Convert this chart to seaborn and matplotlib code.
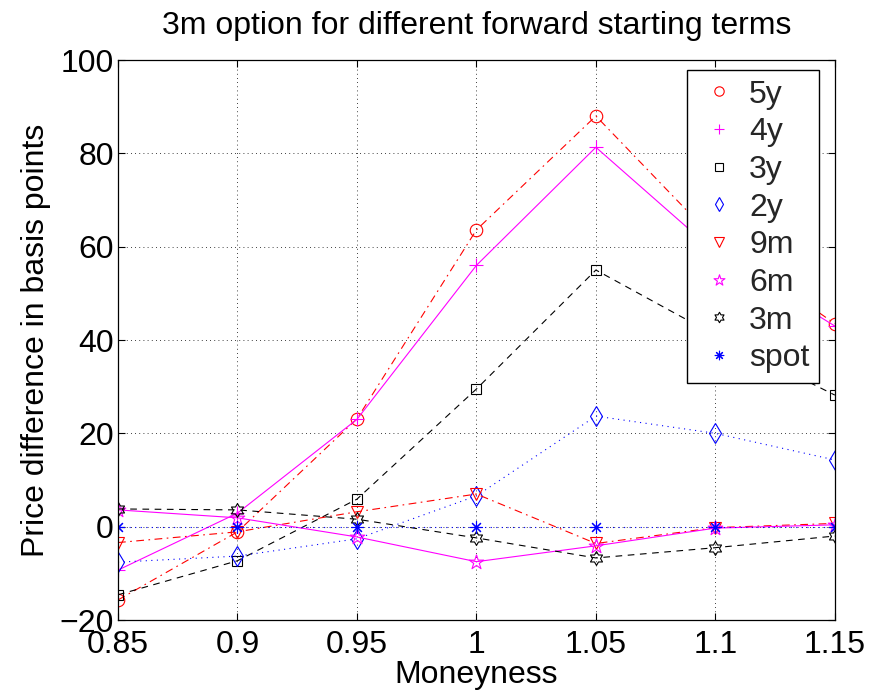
import numpy as np
import pandas as pd
import matplotlib
matplotlib.use("Agg")
import matplotlib.pyplot as plt
from matplotlib.lines import Line2D
from matplotlib.path import Path
import seaborn as sns

# Moneyness grid and price differences (basis points) per forward starting term
moneyness = [0.85, 0.90, 0.95, 1.00, 1.05, 1.10, 1.15]
fwd_5y = [-15.7, -1.1, 23.1, 63.6, 88.0, 61.4, 43.5]
fwd_4y = [-9.3, 2.9, 23.0, 56.0, 81.3, 58.8, 43.0]
fwd_3y = [-14.6, -7.3, 5.9, 29.5, 55.0, 41.0, 28.2]
fwd_2y = [-7.6, -6.3, -2.6, 6.6, 23.7, 20.0, 14.3]
fwd_9m = [-3.4, -1.1, 3.2, 7.0, -3.6, -0.2, 0.7]
fwd_6m = [3.6, 1.9, -2.2, -7.5, -4.1, -0.3, 0.4]
fwd_3m = [3.8, 3.6, 1.6, -2.4, -6.7, -4.5, -2.0]
fwd_spot = [0.0, 0.0, 0.0, 0.0, 0.0, 0.0, 0.0]

terms = ["5y", "4y", "3y", "2y", "9m", "6m", "3m", "spot"]
x_ticks = [0.85, 0.9, 0.95, 1.0, 1.05, 1.1, 1.15]
x_tick_labels = ["0.85", "0.9", "0.95", "1", "1.05", "1.1", "1.15"]
y_ticks = [-20, 0, 20, 40, 60, 80, 100]


def star_path(n, inner):
    """Closed star outline with n points and the given inner radius."""
    verts = []
    for k in range(2 * n):
        r = 1.0 if k % 2 == 0 else inner
        a = np.pi / 2 + k * np.pi / n
        verts.append((r * np.cos(a), r * np.sin(a)))
    verts.append(verts[0])
    codes = [Path.MOVETO] + [Path.LINETO] * (2 * n - 1) + [Path.CLOSEPOLY]
    return Path(verts, codes)


pentagram = star_path(5, 0.382)
hexagram = star_path(6, 0.577)

dash = (0, (6, 5))
dashdot = (0, (7, 4, 1.5, 4))
dot = (0, (1, 4))

styles = {
    "5y": dict(color="#ff0000", ls=dashdot, marker="o", ms=9),
    "4y": dict(color="#ff00ff", ls="-", marker="+", ms=10),
    "3y": dict(color="#000000", ls=dash, marker="s", ms=7),
    "2y": dict(color="#0000ff", ls=dot, marker="d", ms=10),
    "9m": dict(color="#ff0000", ls=dashdot, marker="v", ms=9),
    "6m": dict(color="#ff00ff", ls="-", marker=pentagram, ms=11),
    "3m": dict(color="#000000", ls=dash, marker=hexagram, ms=10),
    "spot": dict(color="#0000ff", ls=dot, marker=(8, 2, 0), ms=9),
}

values = [fwd_5y, fwd_4y, fwd_3y, fwd_2y, fwd_9m, fwd_6m, fwd_3m, fwd_spot]
df = pd.DataFrame({
    "Moneyness": np.tile(moneyness, len(terms)),
    "diff": np.concatenate(values),
    "term": np.repeat(terms, len(moneyness)),
})

sns.set_theme(style="white")
plt.rcParams["font.family"] = ["Liberation Sans", "DejaVu Sans"]

fig = plt.figure(figsize=(8.76, 6.93), dpi=100)
ax = fig.add_axes([0.1347, 0.1053, 0.8183, 0.8081])

for term in terms:
    st = styles[term]
    sub = df[df["term"] == term]
    sns.lineplot(data=sub, x="Moneyness", y="diff", ax=ax, color=st["color"],
                 linestyle=st["ls"], linewidth=0.8, marker=st["marker"],
                 markersize=st["ms"], markerfacecolor="none",
                 markeredgecolor=st["color"], markeredgewidth=0.8,
                 legend=False, estimator=None, sort=False)

ax.set_xlim(0.85, 1.15)
ax.set_ylim(-20, 100)
ax.set_xticks(x_ticks)
ax.set_xticklabels(x_tick_labels)
ax.set_yticks(y_ticks)
ax.tick_params(axis="both", which="both", direction="in", length=5,
               width=0.8, colors="black", labelsize=23,
               top=True, right=True, bottom=True, left=True)
ax.tick_params(axis="x", pad=7)
ax.tick_params(axis="y", pad=3)
ax.grid(True, color="black", linestyle=(0, (1, 4)), linewidth=0.6)
for sp in ax.spines.values():
    sp.set_color("black")
    sp.set_linewidth(0.9)

ax.set_title("3m option for different forward starting terms", fontsize=23,
             pad=19, color="black")
ax.set_xlabel("Moneyness", fontsize=23, labelpad=0, color="black")
ax.set_ylabel("Price difference in basis points", fontsize=23, labelpad=6,
              color="black")

handles = [Line2D([], [], linestyle="none", marker=styles[t]["marker"],
                  markersize=styles[t]["ms"] * 0.75, markerfacecolor="none",
                  markeredgecolor=styles[t]["color"], markeredgewidth=0.8)
           for t in terms]
leg = ax.legend(handles, terms, loc="upper right",
                bbox_to_anchor=(0.978, 0.982), fontsize=23, frameon=True,
                fancybox=False, framealpha=1, edgecolor="black",
                handlelength=1.4, handletextpad=0.25, labelspacing=0.24,
                borderpad=0.3, borderaxespad=0)
leg.get_frame().set_linewidth(1.0)

fig.savefig("out.png", dpi=100)
